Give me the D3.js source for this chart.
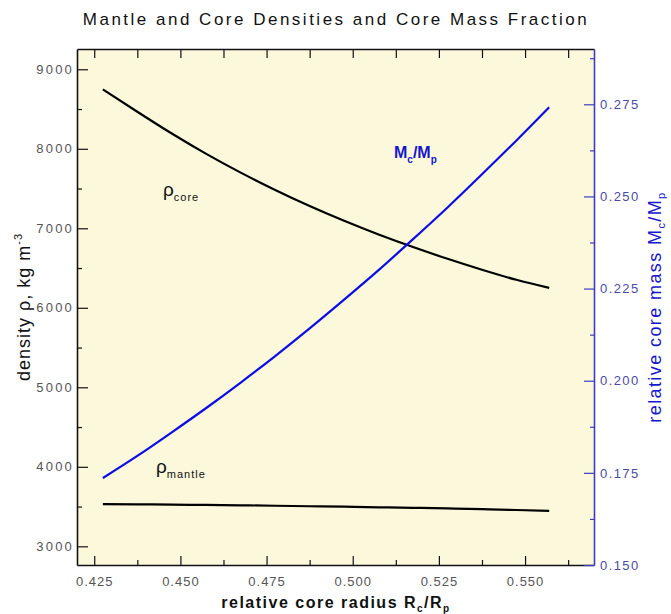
<!DOCTYPE html>
<html>
<head>
<meta charset="utf-8">
<script src="https://cdn.jsdelivr.net/npm/d3@7"></script>
<style>
  html, body { margin: 0; padding: 0; background: #ffffff; }
  svg { display: block; font-family: "Liberation Sans", Arial, sans-serif; }
</style>
</head>
<body>
<svg id="chart" width="671" height="614"></svg>
<script>
// ---- data ----
const radius = [0.4275, 0.4375, 0.4475, 0.4575, 0.4675, 0.4775, 0.4875, 0.4975, 0.5075, 0.5175, 0.5275, 0.5375, 0.5475, 0.557];
const rhoCore = [8748, 8466, 8192, 7936, 7700, 7482, 7280, 7094, 6922, 6764, 6616, 6478, 6352, 6250];
const rhoMantle = [3530, 3528, 3525, 3520, 3516, 3510, 3504, 3498, 3491, 3484, 3476, 3467, 3457, 3446];
const massFraction = [0.1736, 0.1796, 0.1860, 0.1926, 0.1995, 0.2067, 0.2142, 0.2220, 0.2300, 0.2384, 0.2470, 0.2560, 0.2652, 0.2742];

const xTicks = [0.425, 0.450, 0.475, 0.500, 0.525, 0.550];
const xMinorTicks = [0.4375, 0.4625, 0.4875, 0.5125, 0.5375, 0.5625];
const yLeftTicks = [3000, 4000, 5000, 6000, 7000, 8000, 9000];
const yLeftMinorTicks = [3500, 4500, 5500, 6500, 7500, 8500];
const yRightTicks = [0.150, 0.175, 0.200, 0.225, 0.250, 0.275];
const yRightMinorTicks = [0.1625, 0.1875, 0.2125, 0.2375, 0.2625, 0.2875];

const titleText = "Mantle and Core Densities and Core Mass Fraction";

// ---- layout ----
const L = 77, R = 594, T = 49, B = 565;
const svg = d3.select("#chart");
const blueAxis = "#3c3cc4";
const blueLine = "#0c0ce6";
const blueText = "#1616cc";
const grayText = "#555555";

const x = d3.scaleLinear().domain([0.42, 0.57]).range([L, R]);
const yL = d3.scaleLinear().domain([2765, 9255]).range([B, T]);
const yR = d3.scaleLinear().domain([0.15, 0.29]).range([B, T]);

// plot background
svg.append("rect").attr("x", L).attr("y", T).attr("width", R - L).attr("height", B - T)
  .attr("fill", "#fcf8dc");

// title
svg.append("text").attr("x", 336).attr("y", 25).attr("text-anchor", "middle")
  .attr("font-size", 17).attr("letter-spacing", 2.5).attr("fill", "#111")
  .text(titleText);

function styleAxis(g, color, width) {
  g.select(".domain").attr("stroke", color).attr("stroke-width", width);
  g.selectAll(".tick line").attr("stroke", color).attr("stroke-width", 1.2);
}

// bottom axis
const gB = svg.append("g").attr("transform", `translate(0,${B})`)
  .call(d3.axisBottom(x).tickValues(xTicks).tickFormat(d3.format(".3f"))
    .tickSize(-9).tickSizeOuter(0).tickPadding(12));
styleAxis(gB, "#111", 1.6);
gB.selectAll(".tick text").attr("font-size", 13).attr("letter-spacing", 1)
  .attr("fill", grayText).attr("font-family", "Liberation Sans, Arial, sans-serif");
svg.append("g").attr("transform", `translate(0,${B})`)
  .call(d3.axisBottom(x).tickValues(xMinorTicks).tickFormat("").tickSize(-5).tickSizeOuter(0))
  .call(g => { g.select(".domain").remove(); g.selectAll(".tick line").attr("stroke", "#111").attr("stroke-width", 1.2); });

// top axis
const gT = svg.append("g").attr("transform", `translate(0,${T})`)
  .call(d3.axisTop(x).tickValues(xTicks.concat(xMinorTicks)).tickFormat("").tickSize(-9).tickSizeOuter(0));
styleAxis(gT, "#111", 1.6);

// left axis
const gLft = svg.append("g").attr("transform", `translate(${L},0)`)
  .call(d3.axisLeft(yL).tickValues(yLeftTicks).tickFormat(d3.format("d"))
    .tickSize(-11).tickSizeOuter(0).tickPadding(3));
styleAxis(gLft, "#111", 1.6);
gLft.selectAll(".tick text").attr("font-size", 13).attr("letter-spacing", 2.2)
  .attr("fill", grayText).attr("font-family", "Liberation Sans, Arial, sans-serif");
svg.append("g").attr("transform", `translate(${L},0)`)
  .call(d3.axisLeft(yL).tickValues(yLeftMinorTicks).tickFormat("").tickSize(-5).tickSizeOuter(0))
  .call(g => { g.select(".domain").remove(); g.selectAll(".tick line").attr("stroke", "#111").attr("stroke-width", 1.2); });

// right axis
const gRt = svg.append("g").attr("transform", `translate(${R},0)`)
  .call(d3.axisRight(yR).tickValues(yRightTicks).tickFormat(d3.format(".3f"))
    .tickSize(-10).tickSizeOuter(0).tickPadding(6));
styleAxis(gRt, blueAxis, 1.6);
gRt.selectAll(".tick text").attr("font-size", 13).attr("letter-spacing", 1.4)
  .attr("fill", "#4a4aa6").attr("font-family", "Liberation Sans, Arial, sans-serif");
svg.append("g").attr("transform", `translate(${R},0)`)
  .call(d3.axisRight(yR).tickValues(yRightMinorTicks.filter(v => v < 0.29)).tickFormat("").tickSize(-4).tickSizeOuter(0))
  .call(g => { g.select(".domain").remove(); g.selectAll(".tick line").attr("stroke", blueAxis).attr("stroke-width", 1.2); });

// curves
const lineL = d3.line().x((d, i) => x(radius[i])).y(d => yL(d)).curve(d3.curveNatural);
const lineR = d3.line().x((d, i) => x(radius[i])).y(d => yR(d)).curve(d3.curveNatural);

svg.append("path").attr("d", lineL(rhoCore)).attr("fill", "none").attr("stroke", "#000").attr("stroke-width", 2.2);
svg.append("path").attr("d", lineL(rhoMantle)).attr("fill", "none").attr("stroke", "#000").attr("stroke-width", 2.2);
svg.append("path").attr("d", lineR(massFraction)).attr("fill", "none").attr("stroke", blueLine).attr("stroke-width", 2.2);

// in-plot labels
const lc = svg.append("text").attr("x", 163).attr("y", 196).attr("fill", "#111");
lc.append("tspan").attr("font-size", 19).text("ρ");
lc.append("tspan").attr("font-size", 11).attr("letter-spacing", 1).attr("dy", 5).text("core");

const lm = svg.append("text").attr("x", 156).attr("y", 473).attr("fill", "#111");
lm.append("tspan").attr("font-size", 19).text("ρ");
lm.append("tspan").attr("font-size", 11).attr("letter-spacing", 1).attr("dy", 5).text("mantle");

const lb = svg.append("text").attr("x", 394).attr("y", 158).attr("fill", blueText)
  .attr("font-weight", "bold").attr("font-size", 16);
lb.append("tspan").text("M");
lb.append("tspan").attr("font-size", 10).attr("dy", 5).text("c");
lb.append("tspan").attr("dy", -5).text("/M");
lb.append("tspan").attr("font-size", 10).attr("dy", 5).text("p");

// axis titles
const xt = svg.append("text").attr("x", 336).attr("y", 608).attr("text-anchor", "middle")
  .attr("font-size", 16).attr("font-weight", "bold").attr("letter-spacing", 1.5).attr("fill", "#111");
xt.append("tspan").text("relative core radius R");
xt.append("tspan").attr("font-size", 10).attr("dy", 4).text("c");
xt.append("tspan").attr("dy", -4).text("/R");
xt.append("tspan").attr("font-size", 10).attr("dy", 4).text("p");

const ylt = svg.append("text").attr("transform", "translate(30,307) rotate(-90)")
  .attr("text-anchor", "middle").attr("font-size", 18).attr("letter-spacing", 1).attr("fill", "#111");
ylt.append("tspan").text("density ρ, kg m");
ylt.append("tspan").attr("font-size", 11).attr("dy", -8).text("-3");

const yrt = svg.append("text").attr("transform", "translate(661,307) rotate(-90)")
  .attr("text-anchor", "middle").attr("font-size", 18).attr("letter-spacing", 1.4).attr("fill", blueText);
yrt.append("tspan").text("relative core mass M");
yrt.append("tspan").attr("font-size", 11).attr("dy", 4).text("c");
yrt.append("tspan").attr("dy", -4).text("/M");
yrt.append("tspan").attr("font-size", 11).attr("dy", 4).text("p");
</script>
</body>
</html>
